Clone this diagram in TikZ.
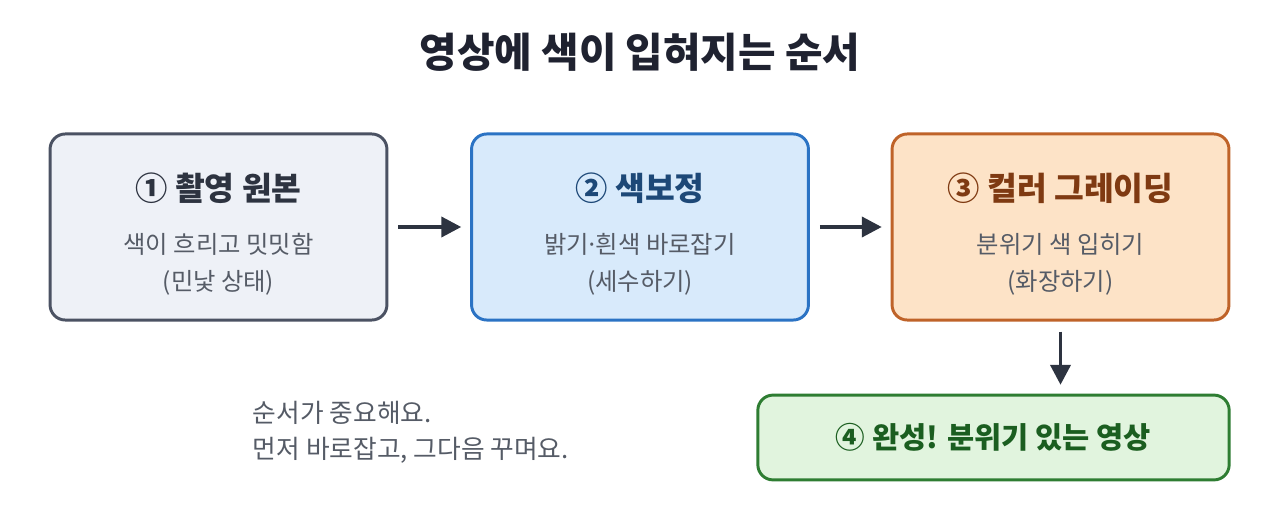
\documentclass[tikz,border=0pt]{standalone}
\usepackage{fontspec}
\setmainfont{Noto Sans CJK KR}
\usetikzlibrary{arrows.meta,positioning,calc}

\definecolor{titleC}{HTML}{1F2230}
\definecolor{bodyC}{HTML}{555B66}
\definecolor{arrowC}{HTML}{2D3340}
\definecolor{grayLine}{HTML}{4B5263}
\definecolor{grayFill}{HTML}{EEF1F7}
\definecolor{grayHead}{HTML}{2D3340}
\definecolor{blueLine}{HTML}{2B73C4}
\definecolor{blueFill}{HTML}{D8EAFB}
\definecolor{blueHead}{HTML}{1D4877}
\definecolor{orangeLine}{HTML}{BF6329}
\definecolor{orangeFill}{HTML}{FDE3C7}
\definecolor{orangeHead}{HTML}{7F3A12}
\definecolor{greenLine}{HTML}{2E7D32}
\definecolor{greenFill}{HTML}{E1F4DE}
\definecolor{greenHead}{HTML}{1B5E20}

\newcommand{\stephead}[2]{{\fontsize{23}{27}\selectfont\bfseries\color{#1}\rule{0pt}{30pt}#2}}

\begin{document}
\begin{tikzpicture}[
      x=0.025cm, y=-0.025cm,
      >={Triangle[length=0.5cm,width=0.5cm]},
      stage/.style={rounded corners=0.38cm, line width=2.1pt, minimum width=8.42cm, minimum height=4.65cm, align=center, text=bodyC, font=\fontsize{17.3}{26.3}\selectfont},
      flow/.style={->, line width=2.8pt, arrowC, shorten <=0.25cm, shorten >=0.22cm}
  ]
      \useasboundingbox (0,0) rectangle (1280,505);

      % Título
      \node[font=\fontsize{29}{34}\selectfont\bfseries, text=titleC] (title) at (640,52) {영상에 색이 입혀지는 순서};

      % Três etapas em linha
      \node[stage, draw=grayLine, fill=grayFill] (raw) at (218.5,227) {\stephead{grayHead}{① 촬영 원본}\\[11pt]색이 흐리고 밋밋함\\(민낯 상태)};
      \node[stage, draw=blueLine, fill=blueFill] (correct) at (640,227) {\stephead{blueHead}{② 색보정}\\[11pt]밝기\kern-0.14em·\kern-0.14em흰색 바로잡기\\(세수하기)};
      \node[stage, draw=orangeLine, fill=orangeFill] (grade) at (1060.5,227) {\stephead{orangeHead}{③ 컬러 그레이딩}\\[11pt]분위기 색 입히기\\(화장하기)};

      % Resultado final
      \node[stage, draw=greenLine, fill=greenFill, minimum width=11.78cm, minimum height=2.12cm] (final) at (993.5,437.5) {{\fontsize{21}{25}\selectfont\bfseries\color{greenHead}④ 완성! 분위기 있는 영상}};

      % Nota
      \node[anchor=north west, align=left, text=bodyC, font=\fontsize{18.3}{25.6}\selectfont] (memo) at (248,396) {순서가 중요해요.\\먼저 바로잡고, 그다음 꾸며요.};

      % Setas
      \draw[flow] (raw) -- (correct);
      \draw[flow] (correct) -- (grade);
      \draw[flow] (grade.south) -- (grade.south |- final.north);
  \end{tikzpicture}
\end{document}
